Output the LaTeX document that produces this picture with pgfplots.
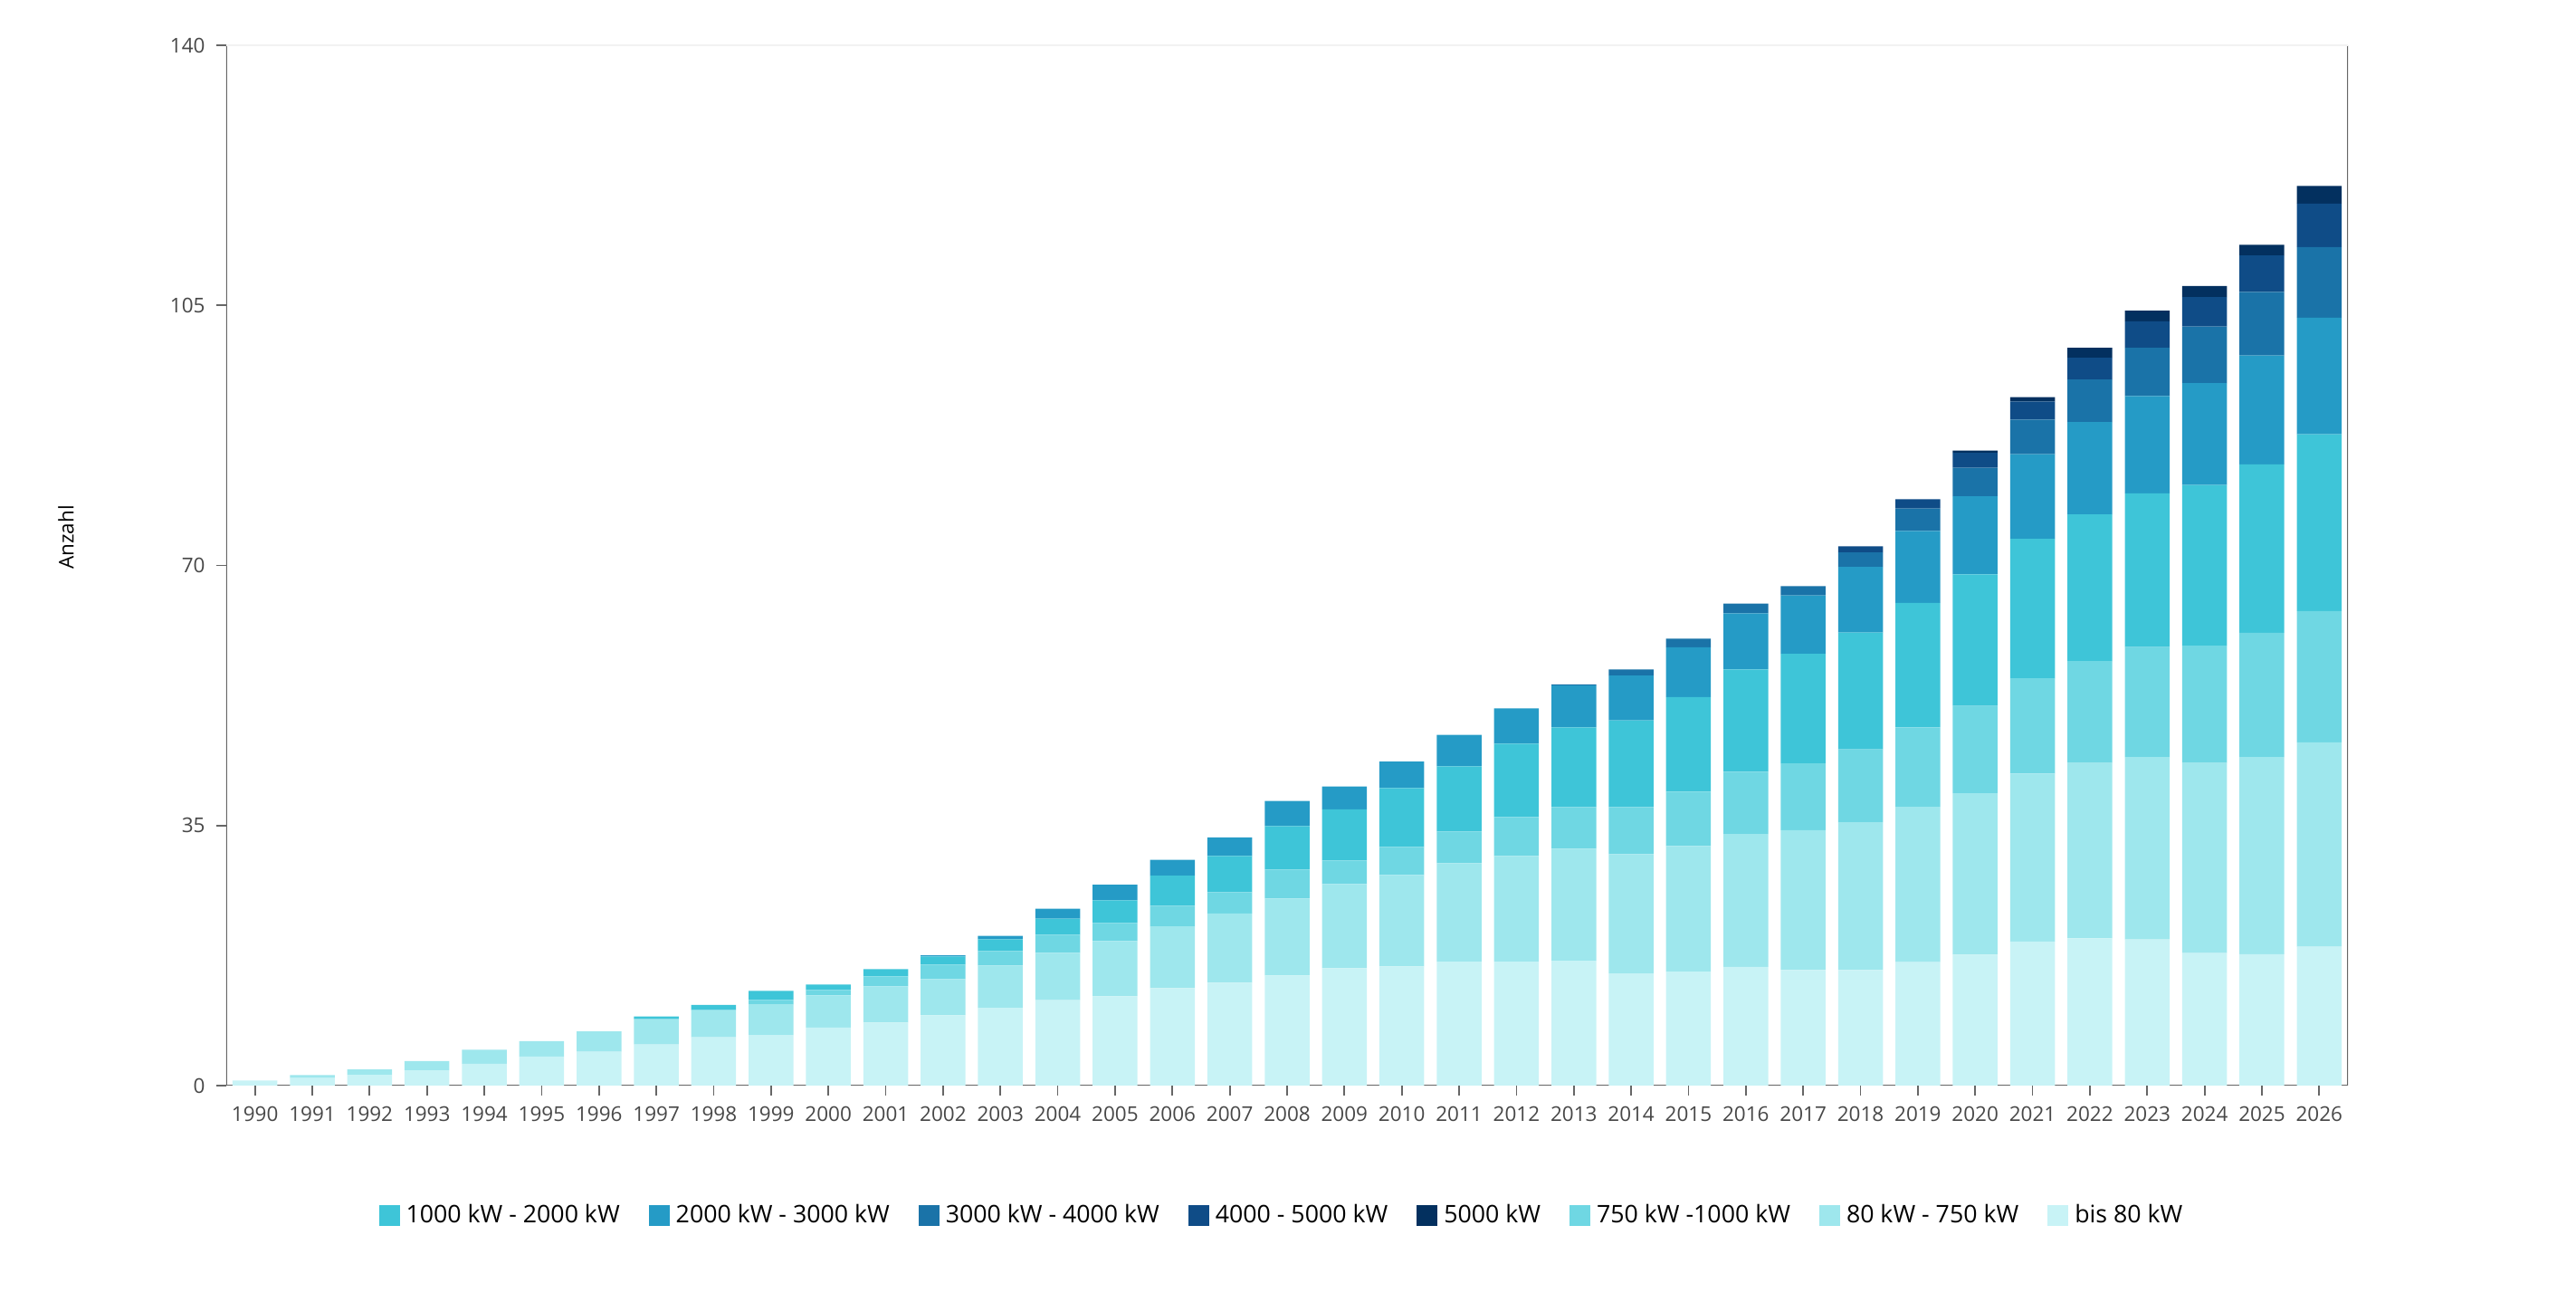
\documentclass[border=0pt]{standalone}
\usepackage{pgfplots}
\pgfplotsset{compat=1.18}
\usepackage{pgfplotstable}
\usepackage{fontspec}
\setmainfont{Open Sans}

\definecolor{cA}{HTML}{C8F3F6}
\definecolor{cB}{HTML}{9EE7ED}
\definecolor{cC}{HTML}{6FD7E3}
\definecolor{cD}{HTML}{3EC5D8}
\definecolor{cE}{HTML}{259BC6}
\definecolor{cF}{HTML}{1A73A8}
\definecolor{cG}{HTML}{0F4C87}
\definecolor{cH}{HTML}{03305F}
\definecolor{axgray}{HTML}{666666}

\pgfplotstableread{
x year a b c d e f g h
0 1990 0.69 0 0 0 0 0 0 0
1 1991 1.02 0.40 0 0 0 0 0 0
2 1992 1.46 0.73 0 0 0 0 0 0
3 1993 2.07 1.22 0 0 0 0 0 0
4 1994 2.93 1.90 0 0 0 0 0 0
5 1995 3.90 2.07 0 0 0 0 0 0
6 1996 4.55 2.76 0 0 0 0 0 0
7 1997 5.53 3.41 0 0.37 0 0 0 0
8 1998 6.50 3.66 0 0.69 0 0 0 0
9 1999 6.82 4.06 0.65 1.22 0 0 0 0
10 2000 7.80 4.34 0.73 0.73 0 0 0 0
11 2001 8.49 4.87 1.34 0.97 0 0 0 0
12 2002 9.46 4.87 1.95 1.10 0.16 0 0 0
13 2003 10.47 5.69 1.95 1.58 0.45 0 0 0
14 2004 11.49 6.37 2.44 2.15 1.34 0 0 0
15 2005 12.02 7.43 2.43 3.05 2.10 0 0 0
16 2006 13.11 8.33 2.76 4.06 2.11 0 0 0
17 2007 13.84 9.34 2.84 4.88 2.51 0 0 0
18 2008 14.82 10.35 3.90 5.85 3.37 0 0 0
19 2009 15.79 11.33 3.17 6.90 3.05 0 0 0
20 2010 16.04 12.30 3.78 7.91 3.57 0 0 0
21 2011 16.69 13.23 4.27 8.77 4.23 0 0 0
22 2012 16.69 14.21 5.23 9.87 4.75 0 0 0
23 2013 16.81 15.06 5.60 10.72 5.64 0.16 0 0
24 2014 15.10 16.04 6.33 11.69 6.01 0.82 0 0
25 2015 15.35 16.89 7.31 12.75 6.70 1.13 0 0
26 2016 15.98 17.88 8.37 13.78 7.55 1.32 0 0
27 2017 15.54 18.82 9.00 14.73 7.86 1.26 0 0
28 2018 15.54 19.89 9.82 15.73 8.81 1.95 0.82 0
29 2019 16.61 20.90 10.70 16.74 9.69 3.02 1.26 0
30 2020 17.62 21.71 11.77 17.69 10.51 3.83 2.02 0.31
31 2021 19.38 22.60 12.83 18.76 11.39 4.66 2.45 0.57
32 2022 19.81 23.61 13.71 19.73 12.44 5.71 2.93 1.35
33 2023 19.65 24.57 14.81 20.68 13.08 6.50 3.56 1.43
34 2024 17.83 25.59 15.77 21.63 13.71 7.61 3.96 1.51
35 2025 17.67 26.55 16.71 22.67 14.66 8.55 4.92 1.42
36 2026 18.70 27.50 17.67 23.77 15.69 9.51 5.86 2.38
}\data

\begin{document}
\begin{tikzpicture}
\path[use as bounding box] (-25mm,-23.9mm) rectangle (259.6mm,119.9mm);
\begin{axis}[
  at={(0,0)}, anchor=south west,
  width=234.4mm, height=114.9mm, scale only axis,
  xmin=-0.5, xmax=36.5, ymin=0, ymax=140,
  ybar stacked, bar width=4.95mm,
  xtick={0,...,36},
  xticklabels from table={\data}{year},
  ytick={0,35,70,105,140},
  tick align=outside, major tick length=1.1mm,
  tick style={axgray, line width=0.5pt},
  xtick pos=lower, ytick pos=left,
  axis line style={draw=none},
  tick label style={font=\fontsize{6.4}{7}\selectfont, text=black!72},
  /pgf/number format/assume math mode=true,
  ylabel={Anzahl},
  every axis y label/.style={at={(axis description cs:-0.0755,0.527)}, rotate=90, anchor=center, font=\fontsize{6.4}{7}\selectfont},
  legend image code/.code={\fill[#1,draw=none] (0mm,-1.15mm) rectangle (2.3mm,1.15mm);},
  legend style={at={(axis description cs:0.4985,-0.125)}, anchor=center, draw=none,
    font=\fontsize{7.6}{9}\selectfont, inner sep=0pt,
    /tikz/every even column/.append style={column sep=2.5mm}},
  legend columns=8, legend cell align=left,
]
\addplot[fill=cA, draw=none, forget plot] table[x=x,y=a]{\data};
\addplot[fill=cB, draw=none, forget plot] table[x=x,y=b]{\data};
\addplot[fill=cC, draw=none, forget plot] table[x=x,y=c]{\data};
\addplot[fill=cD, draw=none, forget plot] table[x=x,y=d]{\data};
\addplot[fill=cE, draw=none, forget plot] table[x=x,y=e]{\data};
\addplot[fill=cF, draw=none, forget plot] table[x=x,y=f]{\data};
\addplot[fill=cG, draw=none, forget plot] table[x=x,y=g]{\data};
\addplot[fill=cH, draw=none, forget plot] table[x=x,y=h]{\data};
\addlegendimage{fill=cD}\addlegendentry{1000 kW - 2000 kW}
\addlegendimage{fill=cE}\addlegendentry{2000 kW - 3000 kW}
\addlegendimage{fill=cF}\addlegendentry{3000 kW - 4000 kW}
\addlegendimage{fill=cG}\addlegendentry{4000 - 5000 kW}
\addlegendimage{fill=cH}\addlegendentry{5000 kW}
\addlegendimage{fill=cC}\addlegendentry{750 kW -1000 kW}
\addlegendimage{fill=cB}\addlegendentry{80 kW - 750 kW}
\addlegendimage{fill=cA}\addlegendentry{bis 80 kW}
\draw[black!5, line width=0.5pt] (rel axis cs:0,1) -- (rel axis cs:1,1);
\draw[axgray, line width=0.5pt] (rel axis cs:0,1) -- (rel axis cs:0,0) -- (rel axis cs:1,0) -- (rel axis cs:1,1);
\end{axis}
\end{tikzpicture}
\end{document}
